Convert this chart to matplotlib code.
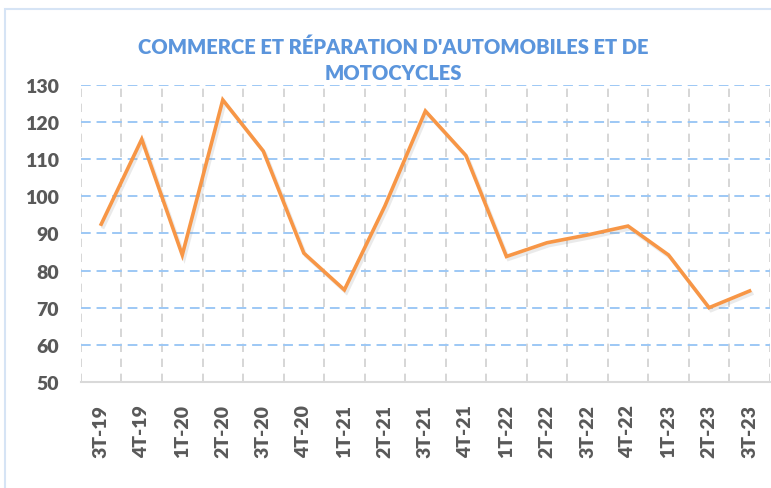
import matplotlib
matplotlib.use("Agg")
from matplotlib import pyplot as plt
from matplotlib import patheffects as pe
from matplotlib.patches import Rectangle

quarters = ["3T-19", "4T-19", "1T-20", "2T-20", "3T-20", "4T-20", "1T-21", "2T-21",
            "3T-21", "4T-21", "1T-22", "2T-22", "3T-22", "4T-22", "1T-23", "2T-23", "3T-23"]
values = [92.5, 115.4, 84.2, 126.0, 112.2, 84.7, 74.8, 97.4,
          123.0, 111.0, 83.8, 87.5, 89.6, 92.0, 84.2, 70.0, 74.5]
yticks = [50, 60, 70, 80, 90, 100, 110, 120, 130]
title = "COMMERCE ET RÉPARATION D'AUTOMOBILES ET DE\nMOTOCYCLES"

plt.rcParams['font.family'] = ['Lato', 'DejaVu Sans']

fig = plt.figure(figsize=(7.71, 4.89), dpi=100)
ax = fig.add_axes([0.105, 0.217, 0.8935, 0.607])

# chart frame
fig.patches.append(Rectangle((0.006, -0.05), 1.2, 1.03, transform=fig.transFigure,
                             fill=False, edgecolor="#d6e4f5", linewidth=1.5))

x = list(range(len(quarters)))
ax.plot(x, values, color="#f79646", linewidth=2.6, solid_joinstyle="miter", zorder=3,
        path_effects=[pe.SimpleLineShadow(offset=(1.5, -2), shadow_color="#999999", alpha=0.2),
                      pe.Normal()])

ax.set_xlim(-0.5, len(quarters) - 0.5)
ax.set_ylim(50, 130)
ax.set_yticks(yticks)
ax.set_xticks(x)
ax.set_xticklabels(quarters, rotation=90, fontsize=14, fontweight="heavy", color="#595959")
ax.set_xticks([i - 0.5 for i in range(len(quarters) + 1)], minor=True)
for lbl in ax.get_yticklabels():
    lbl.set_fontsize(14)
    lbl.set_fontweight("heavy")
    lbl.set_color("#595959")

ax.tick_params(axis="both", which="both", length=0)
ax.tick_params(axis="x", pad=16)
ax.tick_params(axis="y", pad=16)

ax.yaxis.grid(True, color="#9dc8f5", linestyle=(0, (5, 3)), linewidth=1.4)
ax.xaxis.grid(True, which="minor", color="#d0d0d0", linestyle=(0, (5, 4)), linewidth=1.2)
ax.xaxis.grid(False, which="major")
ax.set_axisbelow(True)

for s in ["top", "right", "left"]:
    ax.spines[s].set_visible(False)
ax.spines["bottom"].set_color("#d9d9d9")
ax.spines["bottom"].set_linewidth(1.5)

fig.text(0.51, 0.877, title, ha="center", va="center", fontsize=14.5, fontweight="heavy",
         color="#5b95dc", linespacing=1.45)

fig.savefig("out.png", dpi=100)
